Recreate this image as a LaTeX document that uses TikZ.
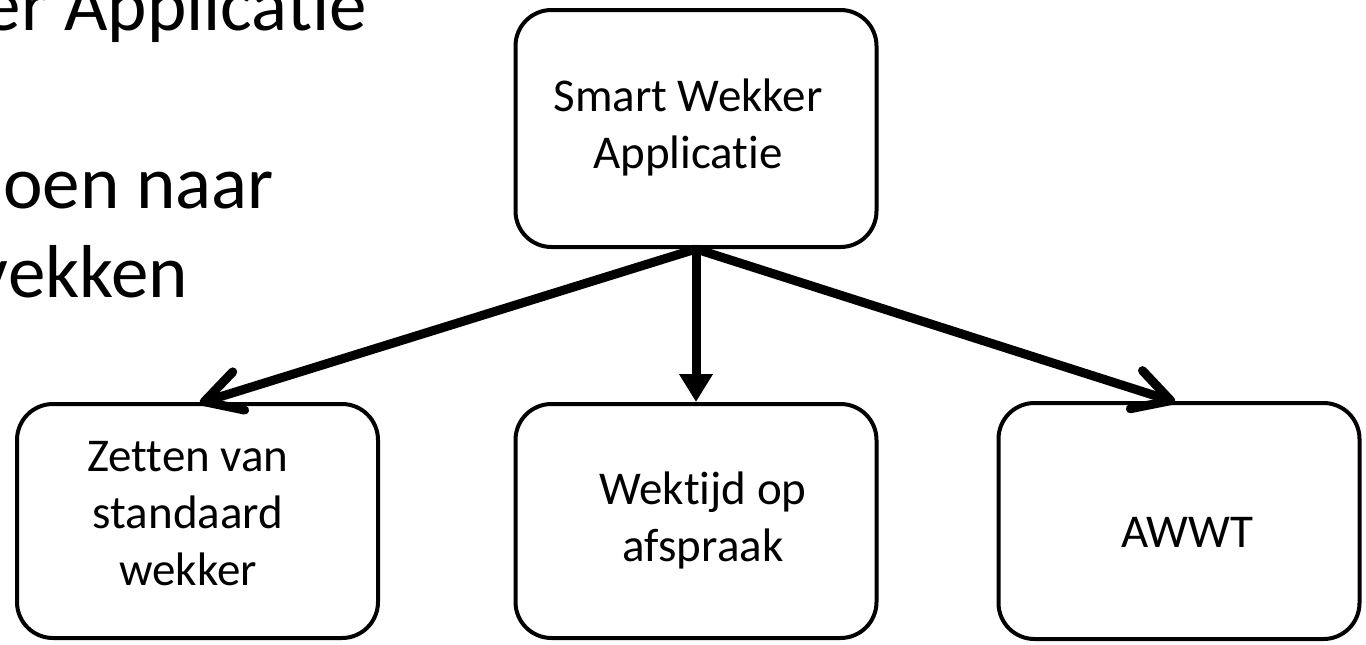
\documentclass[tikz,border=0pt]{standalone}
\usepackage{fontspec}
\setmainfont{Carlito}[Ligatures={NoCommon}]
\usetikzlibrary{arrows.meta}
\begin{document}
\begin{tikzpicture}[x=1pt,y=-1pt,
  box/.style={draw, line width=4pt, rounded corners=36pt, minimum width=361pt, inner sep=0pt},
  lbl/.style={font=\fontsize{47}{57}\selectfont, align=center, inner sep=0pt},
  big/.style={font=\fontsize{75}{91}\selectfont, anchor=base east, inner sep=0pt},
  barb/.style={line width=9pt, -{Straight Barb[length=36pt, width=40pt, line cap=round, line join=round]}},
  tri/.style={line width=9pt, -{Triangle[length=28pt, width=32pt]}}]
\useasboundingbox (0,0) rectangle (1366,645);
% partially visible slide text
\node[big] (t1) at (367,30) {er Applicatie};
\node[big] (t2) at (274,208) {oen naar};
\node[big] (t3) at (188,297) {vekken};
% boxes
\node[box, minimum height=237pt] (T) at (696,128.5) {};
\node[box, minimum height=234pt] (L) at (197.5,521) {};
\node[box, minimum height=234pt] (M) at (696,521) {};
\node[box, minimum height=236pt] (R) at (1179,521) {};
% labels
\node[lbl] (tT) at (688,127) {Smart Wekker\\Applicatie};
\node[lbl] (tL) at (188,514) {Zetten van\\standaard\\wekker};
\node[lbl] (tM) at (703,520) {Wektijd op\\afspraak};
\node[lbl] (tR) at (1187,532) {AWWT};
% connectors
\coordinate (tipL) at (200,403);
\coordinate (tipR) at (1175,402);
\draw[barb] (T.south) -- (tipL);
\draw[tri] (T.south) -- (M.north);
\draw[barb] (T.south) -- (tipR);
\end{tikzpicture}
\end{document}
